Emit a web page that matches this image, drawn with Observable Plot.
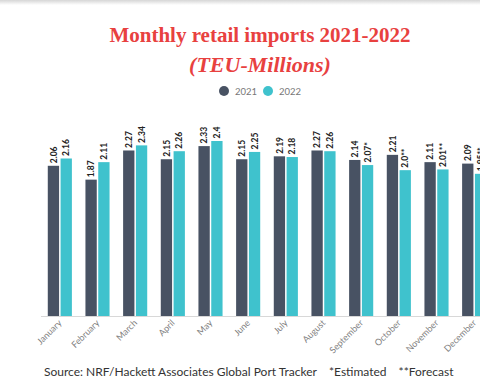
<!DOCTYPE html>
<html>
<head>
<meta charset="utf-8">
<script src="https://cdn.jsdelivr.net/npm/d3@7"></script>
<script src="https://cdn.jsdelivr.net/npm/@observablehq/plot@0.6"></script>
<style>
  html, body { margin: 0; padding: 0; background: #fff; overflow: hidden; }
  #wrap { position: relative; width: 520px; height: 384px; }
  #shadow { position: absolute; left: 0; top: 0; width: 520px; height: 5px;
    background: linear-gradient(#d6d6d6, rgba(255,255,255,0)); }
  .title { position: absolute; left: 0; width: 520px; text-align: center;
    font-family: "Liberation Serif", serif; color: #e8413f; font-size: 21px; line-height: 21px; font-weight: bold; }
  #t1 { top: 25px; }
  #t2 { top: 54px; font-style: italic; font-size: 22px; }
  #legend { position: absolute; top: 85px; left: 0; width: 520px; height: 12px;
    display: flex; justify-content: center; align-items: center;
    font-family: Lato, sans-serif; font-size: 9.5px; color: #777; }
  .sw { width: 10px; height: 10px; border-radius: 50%; display: inline-block; margin-right: 6px; }
  .li { display: flex; align-items: center; margin: 0 3px; }
  #chart { position: absolute; top: 96px; left: 0; }
  #source { position: absolute; top: 364px; left: 44px; font-family: Lato, sans-serif;
    font-size: 12px; line-height: 16px; color: #333; white-space: nowrap; }
  #source span { margin-right: 12px; }
</style>
</head>
<body>
<div id="wrap">
  <div id="shadow"></div>
  <div class="title" id="t1">Monthly retail imports 2021-2022</div>
  <div class="title" id="t2">(TEU-Millions)</div>
  <div id="legend"></div>
  <div id="chart"></div>
  <div id="source"></div>
</div>
<script>
const months = ["January","February","March","April","May","June","July","August","September","October","November","December"];
const series = ["2021", "2022"];
const colors = ["#485263", "#3fc2cd"];
const values2021 = [2.06, 1.87, 2.27, 2.15, 2.33, 2.15, 2.19, 2.27, 2.14, 2.21, 2.11, 2.09];
const values2022 = [2.16, 2.11, 2.34, 2.26, 2.4, 2.25, 2.18, 2.26, 2.07, 2.0, 2.01, 1.95];
const labels2021 = ["2.06","1.87","2.27","2.15","2.33","2.15","2.19","2.27","2.14","2.21","2.11","2.09"];
const labels2022 = ["2.16","2.11","2.34","2.26","2.4","2.25","2.18","2.26","2.07*","2.0**","2.01**","1.95**"];
const sourceParts = ["Source: NRF/Hackett Associates Global Port Tracker", "*Estimated", "**Forecast"];

const d21 = months.map((m, i) => ({month: m, value: values2021[i], label: labels2021[i]}));
const d22 = months.map((m, i) => ({month: m, value: values2022[i], label: labels2022[i]}));

const legend = document.getElementById("legend");
series.forEach((s, i) => {
  const item = document.createElement("span");
  item.className = "li";
  item.innerHTML = `<span class="sw" style="background:${colors[i]}"></span>${s}`;
  legend.appendChild(item);
});

const src = document.getElementById("source");
sourceParts.forEach(t => { const s = document.createElement("span"); s.textContent = t; src.appendChild(s); });

const inset = 12.8, off = 6.4;
const lab = {rotate: -90, textAnchor: "start", dy: -3, fontSize: 8.5, fontWeight: "bold", fill: "#222", fontFamily: "Lato, sans-serif"};

const chart = Plot.plot({
  width: 520,
  height: 262,
  marginLeft: 41,
  marginRight: 27,
  marginTop: 45,
  marginBottom: 42,
  style: {fontFamily: "Lato, sans-serif", background: "transparent", overflow: "visible"},
  x: {domain: months, paddingInner: 0.36, paddingOuter: 0.18, round: false, label: null},
  y: {domain: [0, 2.4], axis: null},
  marks: [
    Plot.barY(d21, {x: "month", y: "value", fill: colors[0], insetRight: inset}),
    Plot.barY(d22, {x: "month", y: "value", fill: colors[1], insetLeft: inset}),
    Plot.text(d21, {x: "month", y: "value", text: "label", dx: -off, ...lab}),
    Plot.text(d22, {x: "month", y: "value", text: "label", dx: off, ...lab}),
    Plot.axisX({tickSize: 0, tickRotate: -45, tickPadding: 5, fontSize: 9, fill: "#808080", label: null}),
    Plot.ruleY([0], {stroke: "#d8d8d8", strokeWidth: 1})
  ]
});
document.getElementById("chart").appendChild(chart);
</script>
</body>
</html>
